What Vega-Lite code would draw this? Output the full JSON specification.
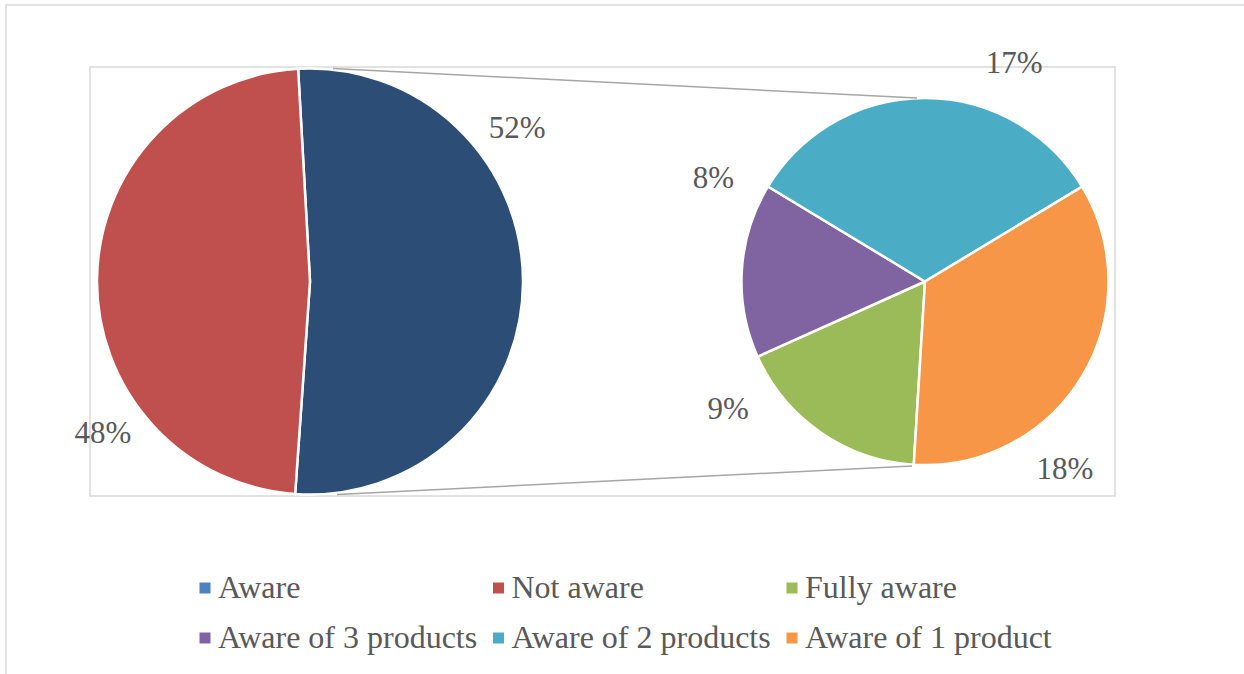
{
  "$schema": "https://vega.github.io/schema/vega-lite/v6.json",
  "width": 1025,
  "height": 429,
  "autosize": {"type": "none"},
  "padding": {"left": 90, "top": 67, "right": 129, "bottom": 178},
  "background": "white",
  "config": {"view": {"stroke": "#D9D9D9", "strokeWidth": 1.5}},
  "data": {
    "values": [
      {"group": "Main", "category": "Aware", "value": 0.52},
      {"group": "Main", "category": "Not aware", "value": 0.48},
      {"group": "Detail", "category": "Fully aware", "value": 0.09},
      {"group": "Detail", "category": "Aware of 3 products", "value": 0.08},
      {"group": "Detail", "category": "Aware of 2 products", "value": 0.17},
      {"group": "Detail", "category": "Aware of 1 product", "value": 0.18}
    ]
  },
  "layer": [
    {
      "transform": [{"filter": "datum.group === 'Main'"}],
      "encoding": {
        "x": {"field": "group", "type": "nominal", "scale": {"type": "point", "domain": ["Main", "Detail"], "range": [220, 835], "padding": 0}, "axis": null},
        "theta": {"field": "value", "type": "quantitative", "stack": true, "scale": {"range": [-0.0559, 6.2273]}},
        "order": {"field": "category", "type": "nominal", "sort": "ascending"}
      },
      "layer": [
        {
          "mark": {"type": "arc", "outerRadius": 213, "stroke": "white", "strokeWidth": 2.5},
          "encoding": {
            "color": {
              "condition": {"test": "datum.category === 'Aware'", "value": "#2C4D75"},
              "field": "category",
              "type": "nominal",
              "scale": {
                "domain": ["Aware", "Not aware", "Fully aware", "Aware of 3 products", "Aware of 2 products", "Aware of 1 product"],
                "range": ["#4F81BD", "#C0504D", "#9BBB59", "#8064A2", "#4BACC6", "#F79646"]
              },
              "legend": {
                "orient": "none",
                "legendX": 99,
                "legendY": 505,
                "padding": 0,
                "direction": "horizontal",
                "columns": 3,
                "title": null,
                "symbolType": "square",
                "symbolSize": 121,
                "symbolStrokeWidth": 0,
                "labelFont": "Liberation Serif",
                "labelFontSize": 32,
                "labelColor": "#595959",
                "labelOffset": -3,
                "labelLimit": 400,
                "columnPadding": 4.5,
                "rowPadding": 18
              }
            }
          }
        },
        {
          "mark": {"type": "text", "radius": 257, "thetaOffset": -0.64, "font": "Liberation Serif", "fontSize": 31, "fill": "#595959", "align": "center", "baseline": "middle"},
          "encoding": {
            "detail": {"field": "category", "type": "nominal"},
            "text": {"field": "value", "type": "quantitative", "format": ".0%"}
          }
        }
      ]
    },
    {
      "transform": [{"filter": "datum.group === 'Detail'"}],
      "encoding": {
        "x": {"field": "group", "type": "nominal", "axis": null},
        "theta": {"field": "value", "type": "quantitative", "stack": true, "scale": {"range": [3.2027, 9.4859]}},
        "order": {"field": "category", "type": "nominal", "sort": "descending"}
      },
      "layer": [
        {
          "mark": {"type": "arc", "outerRadius": 183.5, "stroke": "white", "strokeWidth": 2.5},
          "encoding": {
            "color": {"field": "category", "type": "nominal"}
          }
        },
        {
          "mark": {"type": "text", "radius": 235, "thetaOffset": 0.389, "font": "Liberation Serif", "fontSize": 31, "fill": "#595959", "align": "center", "baseline": "middle"},
          "encoding": {
            "detail": {"field": "category", "type": "nominal"},
            "text": {"field": "value", "type": "quantitative", "format": ".0%"}
          }
        }
      ]
    },
    {
      "transform": [{"aggregate": [{"op": "count", "as": "n"}]}],
      "mark": {"type": "rect", "filled": false, "stroke": "#D9D9D9", "strokeWidth": 1.5, "xOffset": -304, "x2Offset": 325},
      "encoding": {
        "x": {"datum": "Main", "type": "nominal", "axis": null},
        "x2": {"datum": "Detail"},
        "y": {"datum": 1.2981, "type": "quantitative", "scale": {"domain": [-1.00704, 1.00704], "nice": false, "zero": false}, "axis": null},
        "y2": {"datum": -1.871}
      }
    },
    {
      "transform": [{"aggregate": [{"op": "count", "as": "n"}]}],
      "mark": {"type": "rule", "color": "#A6A6A6", "strokeWidth": 1.5, "xOffset": 23, "x2Offset": -8},
      "encoding": {
        "x": {"datum": "Main", "type": "nominal", "axis": null},
        "x2": {"datum": "Detail"},
        "y": {"datum": 1, "type": "quantitative", "axis": null},
        "y2": {"datum": 0.8615}
      }
    },
    {
      "transform": [{"aggregate": [{"op": "count", "as": "n"}]}],
      "mark": {"type": "rule", "color": "#A6A6A6", "strokeWidth": 1.5, "xOffset": 27, "x2Offset": -13},
      "encoding": {
        "x": {"datum": "Main", "type": "nominal", "axis": null},
        "x2": {"datum": "Detail"},
        "y": {"datum": -1, "type": "quantitative", "axis": null},
        "y2": {"datum": -0.866}
      }
    }
  ],
  "resolve": {"scale": {"theta": "independent"}}
}
